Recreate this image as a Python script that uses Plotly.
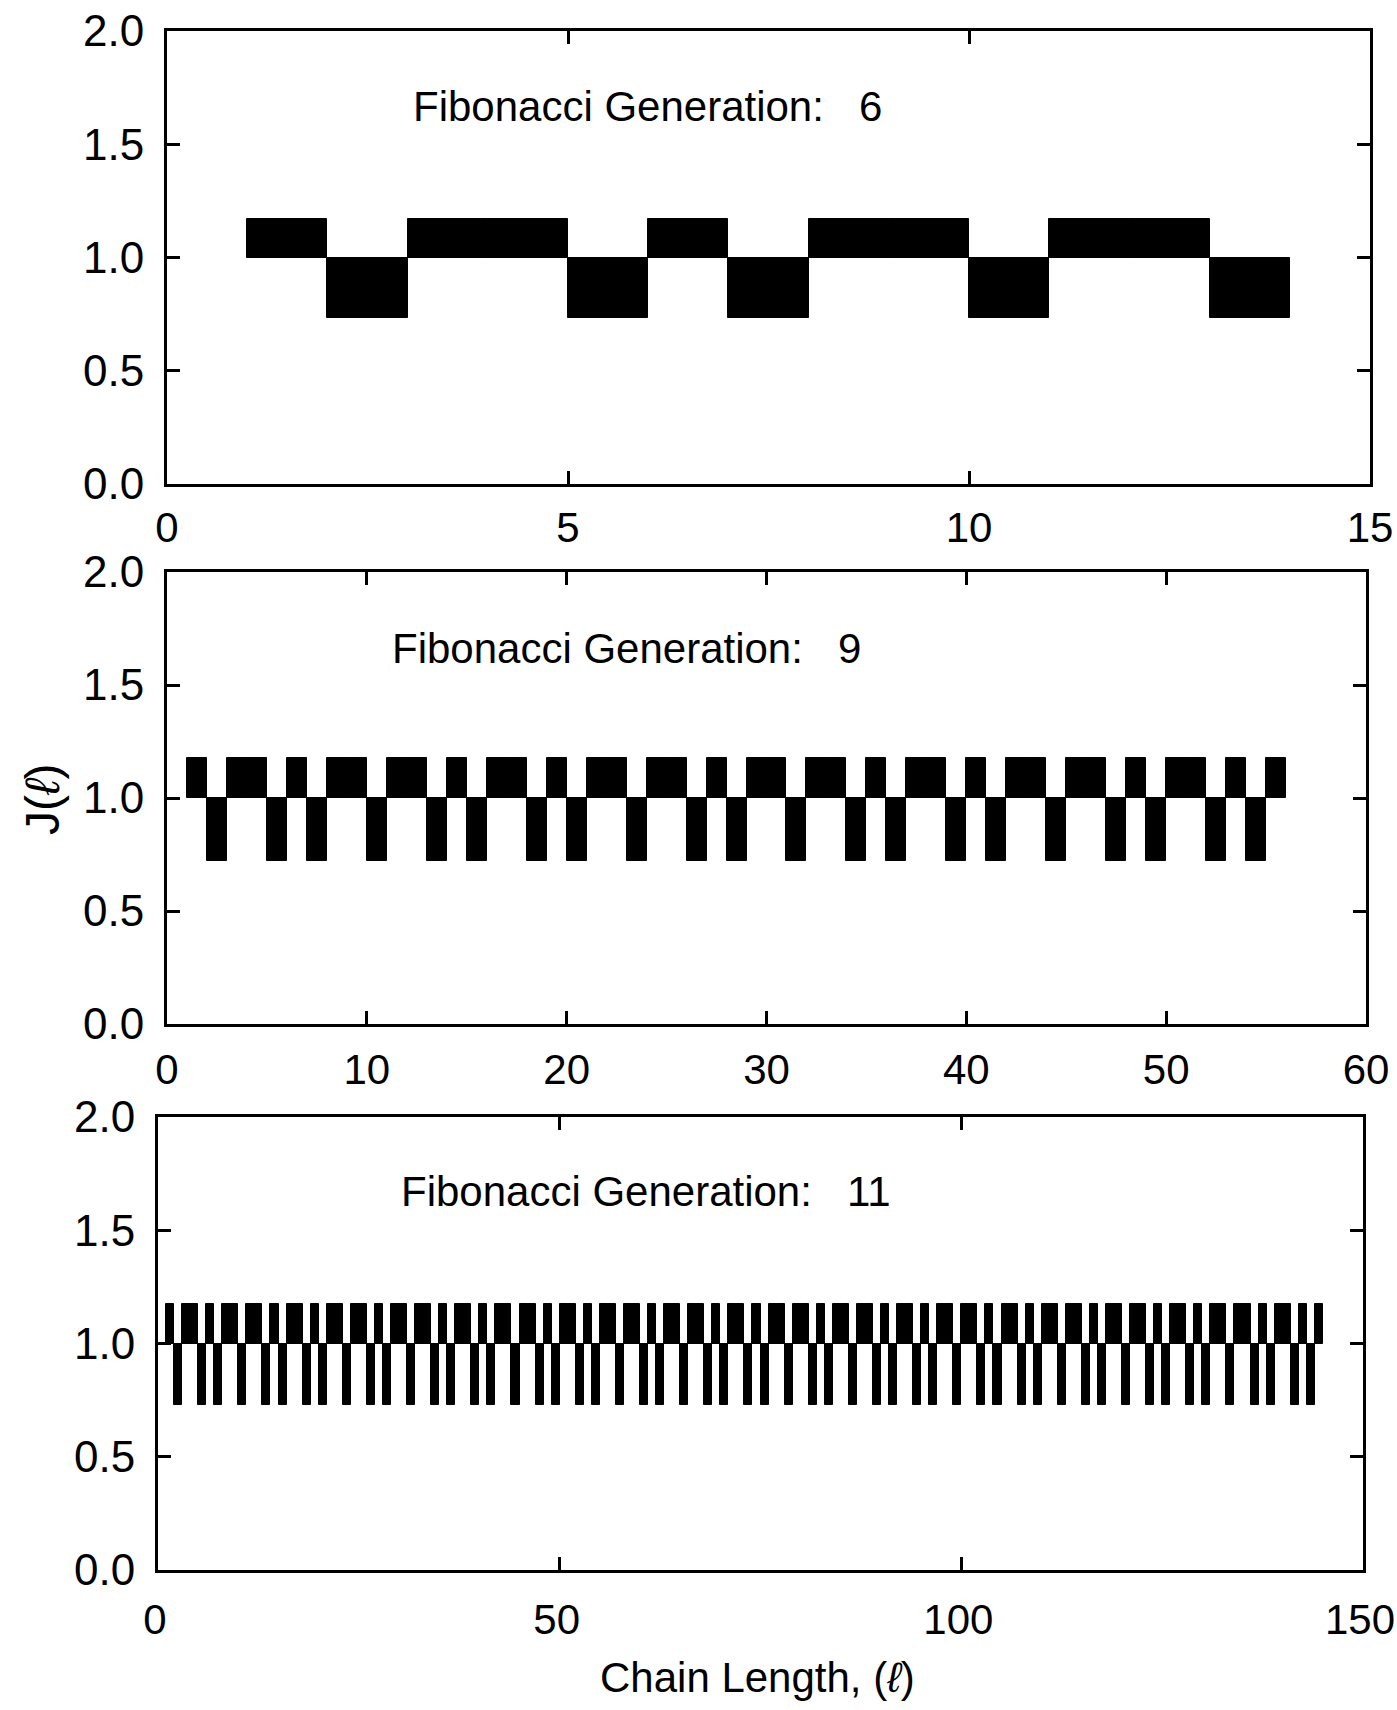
import plotly.graph_objects as go

# ---- data (A = raised bond, B = lowered bond) ----
gen6_sequence = "ABAABABAABAAB"
gen9_sequence = ("ABAABABAABAABABAABABAABAABABAABAAB"
                 "ABAABABAABAABABAABABA")
gen11_sequence = ("ABAABABAABAABABAABABAABAABABAABAAB"
                  "ABAABABAABAABABAABABA"
                  "ABAABABAABAABABAABABAABAABABAABAAB"
                  "ABAABABAABAABABAABABAABAABABAABAAB"
                  "ABAABABAABAABABAABABA")

gen6_J = {"A": 1.17, "B": 0.735}
gen9_J = {"A": 1.175, "B": 0.72}
gen11_J = {"A": 1.175, "B": 0.73}

generations = [6, 9, 11]
x_ranges = [[0, 15], [0, 60], [0, 150]]
x_ticks = [[0, 5, 10, 15], [0, 10, 20, 30, 40, 50, 60], [0, 50, 100, 150]]
y_ticks = [0.0, 0.5, 1.0, 1.5, 2.0]
baseline = 1.0

W, H = 1397, 1710
FONT = "Liberation Sans, Arial, sans-serif"

x_domains = [[167 / W, 1370 / W], [167 / W, 1366 / W], [158 / W, 1363 / W]]
y_domains = [[1 - 484 / H, 1 - 31 / H], [1 - 1024 / H, 1 - 572 / H], [1 - 1570 / H, 1 - 1117 / H]]
x_standoffs = [5, 7, 11]
x_shifts = [0, 0, -3]

fig = go.Figure()
seqs = [gen6_sequence, gen9_sequence, gen11_sequence]
Js = [gen6_J, gen9_J, gen11_J]
for k, (seq, J) in enumerate(zip(seqs, Js)):
    suffix = "" if k == 0 else str(k + 1)
    vals = [J[c] for c in seq]
    xs = [i + 1.5 for i in range(len(seq))]
    fig.add_trace(go.Bar(
        x=xs, y=[v - baseline for v in vals], base=baseline, width=1.0,
        marker=dict(color="black", line=dict(color="black", width=1.0)),
        xaxis="x" + suffix, yaxis="y" + suffix, showlegend=False,
    ))

layout = dict(width=W, height=H, autosize=False,
              margin=dict(l=0, r=0, t=0, b=0, pad=0),
              paper_bgcolor="white", plot_bgcolor="white",
              bargap=0, font=dict(family=FONT, color="black"))
axis_common = dict(showline=True, linecolor="black", linewidth=3, mirror="ticks",
                   ticks="inside", ticklen=13, tickwidth=3, tickcolor="black",
                   showgrid=False, zeroline=False, automargin=False)
for k in range(3):
    suffix = "" if k == 0 else str(k + 1)
    layout["xaxis" + suffix] = dict(axis_common, domain=x_domains[k], range=x_ranges[k],
                                   tickvals=x_ticks[k], anchor="y" + suffix,
                                   ticklabelstandoff=x_standoffs[k],
                                   ticklabelshift=x_shifts[k],
                                   ticklabeloverflow="allow",
                                   tickfont=dict(family=FONT, size=42, color="black"))
    layout["yaxis" + suffix] = dict(axis_common, domain=y_domains[k], range=[0, 2],
                                   tickvals=y_ticks, tickformat=".1f", anchor="x" + suffix,
                                   ticklabelstandoff=11,
                                   tickfont=dict(family=FONT, size=44, color="black"))

fig.update_layout(**layout)

title_pos = [(411, 106), (390, 648), (399, 1191)]
for g, (px, py) in zip(generations, title_pos):
    fig.add_annotation(text="Fibonacci Generation:\u00a0\u00a0 " + str(g),
                       x=px / W, y=1 - py / H, xref="paper", yref="paper",
                       xanchor="left", yanchor="middle", showarrow=False,
                       font=dict(family=FONT, size=42, color="black"))

fig.add_annotation(text="J(<i>ℓ</i>)", x=42 / W, y=1 - 800 / H, xref="paper", yref="paper",
                   textangle=-90, showarrow=False, xanchor="center", yanchor="middle",
                   font=dict(family=FONT, size=48, color="black"))
fig.add_annotation(text="Chain Length, (<i>ℓ</i>)", x=757 / W, y=1 - 1677 / H,
                   xref="paper", yref="paper", showarrow=False,
                   xanchor="center", yanchor="middle",
                   font=dict(family=FONT, size=42, color="black"))

fig.write_html("out.html")
